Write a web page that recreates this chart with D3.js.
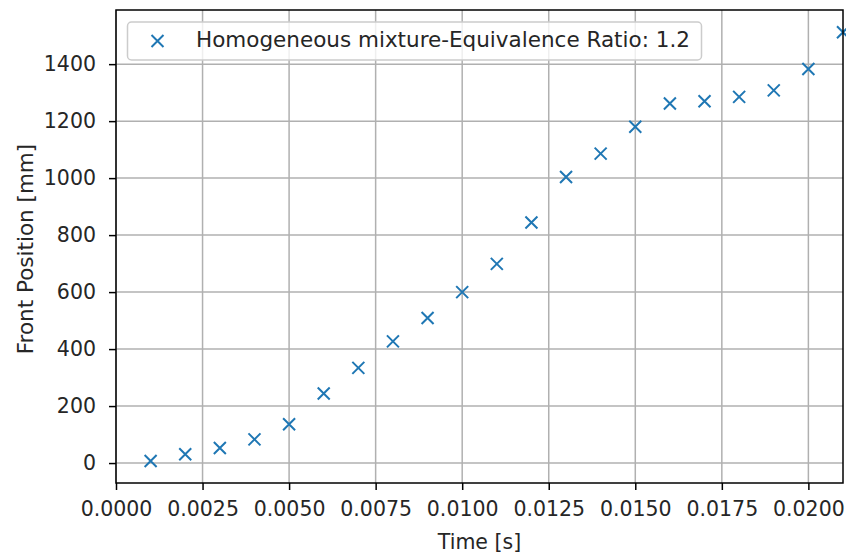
<!DOCTYPE html>
<html><head><meta charset="utf-8">
<script src="https://cdn.jsdelivr.net/npm/d3@7"></script>
<style>html,body{margin:0;padding:0;background:#fff;} svg{display:block;} text{font-family:"DejaVu Sans",sans-serif;fill:#262626;}</style>
</head><body>
<svg id="chart" width="846" height="556"></svg>
<script>
const times = [0.001,0.002,0.003,0.004,0.005,0.006,0.007,0.008,0.009,0.010,0.011,0.012,0.013,0.014,0.015,0.016,0.017,0.018,0.019,0.020,0.021];
const positions = [7,31,53,83,136,244,334,427,509,600,699,844,1004,1086,1180,1262,1270,1285,1308,1383,1512];
const xTicks = [0,0.0025,0.005,0.0075,0.01,0.0125,0.015,0.0175,0.02];
const yTicks = [0,200,400,600,800,1000,1200,1400];
const legendLabel = "Homogeneous mixture-Equivalence Ratio: 1.2";
const xLabel = "Time [s]";
const yLabel = "Front Position [mm]";

const svg = d3.select("#chart");
const m = {left:116, right:843, top:10, bottom:483};
const x = d3.scaleLinear().domain([0,0.021]).range([m.left,m.right]);
const y = d3.scaleLinear().domain([-70,1590]).range([m.bottom,m.top]);
const fs = 20.5, fsL = 21.5;

// grid
const g = svg.append("g");
g.selectAll("line.gx").data(xTicks).join("line")
  .attr("x1",d=>x(d)).attr("x2",d=>x(d)).attr("y1",m.top).attr("y2",m.bottom)
  .attr("stroke","#b0b0b0").attr("stroke-width",1.5);
g.selectAll("line.gy").data(yTicks).join("line")
  .attr("y1",d=>y(d)).attr("y2",d=>y(d)).attr("x1",m.left).attr("x2",m.right)
  .attr("stroke","#b0b0b0").attr("stroke-width",1.5);

// axes
const xAxis = d3.axisBottom(x).tickValues(xTicks).tickFormat(d3.format(".4f")).tickSize(7).tickPadding(11);
const yAxis = d3.axisLeft(y).tickValues(yTicks).tickFormat(d3.format("d")).tickSize(7).tickPadding(13);
const gx = svg.append("g").attr("transform",`translate(0,${m.bottom})`).call(xAxis);
const gy = svg.append("g").attr("transform",`translate(${m.left},0)`).call(yAxis);
[gx,gy].forEach(a=>{
  a.select(".domain").remove();
  a.selectAll(".tick line").attr("stroke","#000").attr("stroke-width",1.5);
  a.selectAll(".tick text").attr("font-size",fs).attr("font-family","DejaVu Sans").attr("fill","#262626");
});

// markers
const s = 6;
const pts = svg.append("g").selectAll("g").data(times.map((t,i)=>[t,positions[i]])).join("g")
  .attr("transform",d=>`translate(${x(d[0])},${y(d[1])})`);
pts.append("path").attr("d",`M${-s},${-s}L${s},${s}M${-s},${s}L${s},${-s}`)
  .attr("stroke","#1f77b4").attr("stroke-width",2).attr("fill","none");

// frame
svg.append("rect").attr("x",m.left).attr("y",m.top).attr("width",m.right-m.left).attr("height",m.bottom-m.top)
  .attr("fill","none").attr("stroke","#000").attr("stroke-width",1.5);

// legend
const lg = svg.append("g");
lg.append("rect").attr("x",127.5).attr("y",22).attr("width",574).attr("height",38).attr("rx",4)
  .attr("fill","#fff").attr("fill-opacity",0.8).attr("stroke","#cccccc").attr("stroke-width",1.5);
lg.append("path").attr("transform","translate(157.5,41)").attr("d",`M${-s},${-s}L${s},${s}M${-s},${s}L${s},${-s}`)
  .attr("stroke","#1f77b4").attr("stroke-width",2).attr("fill","none");
lg.append("text").attr("x",196).attr("y",47).attr("font-size",fsL).text(legendLabel);

// labels
svg.append("text").attr("x",(m.left+m.right)/2).attr("y",549).attr("text-anchor","middle").attr("font-size",fs).text(xLabel);
svg.append("text").attr("transform",`translate(33,249) rotate(-90)`).attr("text-anchor","middle").attr("font-size",fsL).text(yLabel);
</script>
</body></html>
